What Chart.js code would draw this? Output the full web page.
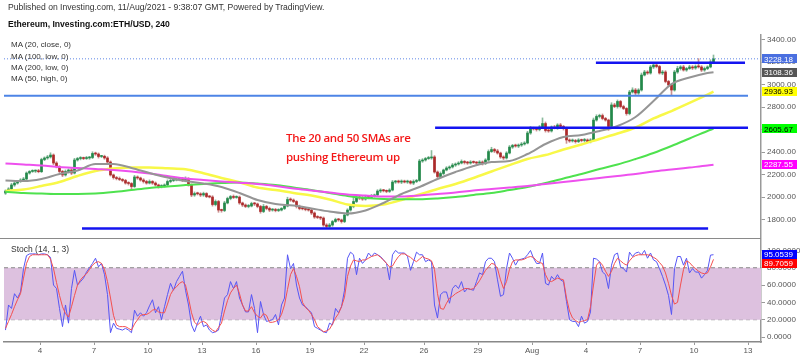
<!DOCTYPE html>
<html><head><meta charset="utf-8">
<script src="https://cdn.jsdelivr.net/npm/chart.js@4.4.1/dist/chart.umd.min.js"></script>
<style>
html,body{margin:0;padding:0;background:#fff;}
#wrap{position:relative;width:800px;height:357px;overflow:hidden;background:#fff;font-family:"Liberation Sans",Arial,sans-serif;}
.box{position:absolute;left:0;width:800px;}
.t{position:absolute;white-space:nowrap;color:#333;line-height:1;z-index:5;}
</style></head><body>
<div id="wrap">
 <div class="box" style="top:0;height:244px"><canvas id="c1"></canvas></div>
 <div class="box" style="top:239px;height:118px"><canvas id="c2"></canvas></div>
 <div style="position:absolute;left:0;top:237.5px;width:761px;height:1.5px;background:#8a8a8a;z-index:4"></div>
 <div class="t" style="left:8px;top:3px;font-size:8.6px;">Published on Investing.com, 11/Aug/2021 - 9:38:07 GMT, Powered by TradingView.</div>
 <div class="t" style="left:8px;top:20px;font-size:8.6px;font-weight:bold;color:#111;">Ethereum, Investing.com:ETH/USD, 240</div>
 <div class="t" style="left:11px;top:41px;font-size:8px;">MA (20, close, 0)</div>
 <div class="t" style="left:11px;top:52.5px;font-size:8px;">MA (100, low, 0)</div>
 <div class="t" style="left:11px;top:64px;font-size:8px;">MA (200, low, 0)</div>
 <div class="t" style="left:11px;top:75px;font-size:8px;">MA (50, high, 0)</div>
 <div class="t" style="left:11px;top:245px;font-size:8.5px;">Stoch (14, 1, 3)</div>
 <div class="t" style="left:286px;top:129px;font-size:11.5px;font-family:'Open Sans',sans-serif;font-weight:600;letter-spacing:-0.3px;color:#f41818;line-height:18.5px;">The 20 and 50 SMAs are<br>pushing Ethereum up</div>
</div>
<script>
// ---------------- DATA ----------------
const firstOpen = 2035;
const closes = [
2053,2071,2107,2124,2138,2151,2160,2213,2227,2230,
2231,2225,2333,2347,2356,2373,2302,2271,2227,2196,
2227,2240,2213,2329,2342,2347,2342,2347,2351,2387,
2382,2360,2362,2347,2311,2196,2173,2164,2156,2147,
2124,2120,2093,2178,2169,2151,2138,2124,2138,2124,
2107,2093,2098,2107,2138,2147,2151,2156,2160,2147,
2164,2107,2018,2031,2028,2018,2031,2004,2000,1933,
1960,1884,1880,1947,1987,2004,1996,1999,1947,1929,
1916,1920,1942,1938,1916,1871,1916,1898,1884,1889,
1880,1884,1898,1920,1978,1973,1960,1916,1898,1895,
1889,1884,1858,1822,1818,1813,1751,1738,1751,1782,
1800,1796,1782,1840,1884,1916,1960,2000,1991,1982,
2000,1996,2009,2018,2053,2058,2055,2050,2062,2133,
2138,2133,2142,2133,2138,2124,2138,2147,2320,2329,
2342,2347,2356,2222,2182,2209,2240,2258,2267,2284,
2293,2302,2316,2307,2302,2311,2307,2302,2311,2298,
2329,2404,2422,2409,2391,2356,2347,2391,2444,2458,
2453,2462,2471,2480,2569,2609,2605,2600,2622,2653,
2591,2587,2622,2613,2640,2627,2609,2507,2498,2502,
2493,2507,2502,2507,2493,2507,2684,2716,2724,2698,
2684,2627,2818,2804,2849,2804,2787,2742,2933,2951,
2924,2951,3084,3111,3102,3156,3173,3160,3102,3111,
3027,2996,2951,3111,3142,3156,3129,3142,3156,3147,
3160,3156,3129,3142,3156,3200,3228.18];
const wickUp = [
10,12,15,8,10,12,14,10,8,12, 10,15,12,10,14,20,10,12,8,10,
14,10,12,15,10,12,8,14,10,15, 12,10,8,10,12,10,8,10,14,8,
10,12,8,14,10,8,12,10,14,8, 10,8,12,10,14,10,12,8,10,14,
15,8,10,14,12,10,12,8,10,12, 14,10,8,15,12,10,14,12,10,8,
10,14,12,10,8,10,18,10,12,8, 10,12,8,10,20,14,10,8,12,10,
8,10,8,10,12,8,10,12,14,10, 12,10,8,14,12,15,40,12,10,14,
12,10,14,8,12,15,10,8,12,14, 10,12,10,8,12,10,14,10,15,12,
10,14,57,12,10,14,8,12,10,14, 10,12,14,8,10,12,10,8,12,10,
12,15,20,10,14,8,10,12,14,10, 12,10,14,12,15,18,12,10,14,50,
14,12,10,15,12,14,10,12,10,14, 10,12,8,14,10,12,18,15,12,14,
10,8,20,15,14,10,12,8,15,20, 14,12,18,15,12,14,16,12,10,14,
12,10,8,15,20,12,14,10,15,12, 14,70,12,14,10,20,34];
const wickDown = [
12,10,8,12,10,8,12,14,10,8, 12,10,8,10,12,10,14,12,10,15,
10,12,14,8,10,12,10,8,12,10, 12,14,10,12,8,10,14,12,10,12,
10,14,25,8,12,10,14,10,8,12, 10,14,12,10,8,12,10,8,12,10,
12,10,15,12,10,14,12,10,8,14, 12,20,15,10,8,12,10,8,12,14,
10,12,8,14,12,15,10,12,14,10, 12,10,8,10,8,12,10,14,12,10,
12,10,14,12,10,14,12,16,10,12, 8,12,14,10,8,10,12,10,14,12,
10,12,8,10,12,14,10,12,10,8, 12,10,14,8,12,10,14,10,8,12,
10,8,12,10,15,12,10,8,12,10, 12,10,8,14,12,10,8,12,10,14,
10,12,8,14,10,12,14,10,8,12, 10,14,12,10,8,12,10,14,12,10,
14,12,10,8,12,10,14,30,12,10, 14,10,12,14,10,12,8,10,14,12,
10,35,12,10,14,12,10,15,12,10, 14,12,10,8,12,10,14,12,10,15,
12,14,44,10,12,14,10,12,8,14, 12,10,14,12,10,8,10];

// moving averages, sampled at these candle indices
const maIdx = [0,6,12,18,24,30,36,42,48,54,60,66,72,78,84,90,96,102,108,114,120,126,132,138,144,150,156,162,168,174,180,186,192,198,204,210,216,222,228,234,236];
const ma20 = [2147,2142,2160,2204,2236,2293,2293,2258,2213,2173,2142,2120,2089,2036,1973,1938,1924,1898,1871,1853,1880,1947,2027,2089,2160,2222,2276,2311,2320,2382,2471,2533,2551,2587,2631,2711,2853,3004,3062,3102,3108.36];
const ma50 = [2053,2067,2098,2133,2187,2231,2253,2262,2262,2255,2246,2211,2169,2131,2084,2062,2036,2013,1978,1933,1920,1933,1973,2022,2071,2116,2169,2227,2284,2338,2373,2422,2467,2516,2564,2618,2698,2764,2836,2911,2936.93];
const ma100 = [2047,2036,2031,2027,2027,2031,2044,2062,2080,2093,2107,2116,2124,2129,2120,2107,2084,2062,2036,2009,1991,1982,1980,1980,1987,2000,2018,2036,2062,2089,2124,2164,2204,2249,2289,2338,2391,2453,2520,2587,2605.67];
const ma200 = [2298,2289,2280,2267,2258,2249,2240,2227,2209,2187,2164,2151,2138,2127,2116,2098,2076,2058,2040,2022,2013,2004,2004,2013,2027,2040,2058,2071,2084,2098,2116,2133,2151,2169,2187,2204,2227,2244,2262,2280,2287.55];

const stochK = [
8,37,33,50,45,52,79,94,96,96, 96,95,96,96,95,92,60,56,33,12,
37,16,56,77,60,64,68,75,80,85, 91,81,85,72,49,5,16,10,9,8,
10,8,5,31,24,28,24,28,36,43, 28,35,20,35,49,62,54,64,70,76,
54,37,14,6,16,24,12,14,8,5, 6,8,26,45,49,64,56,64,45,37,
29,29,49,33,5,41,26,18,19,20, 26,14,37,45,95,79,85,60,45,37,
35,31,28,12,10,8,6,5,16,14, 33,28,35,54,91,98,95,72,91,85,
89,97,93,97,95,93,89,85,66,95, 100,97,97,97,93,77,87,98,95,95,
87,89,87,37,22,49,52,52,39,56, 60,56,64,52,56,55,54,64,74,72,
87,91,91,87,66,47,49,79,97,91, 83,89,90,91,95,100,91,85,85,97,
62,60,70,66,72,66,64,41,20,18, 18,12,24,16,18,29,91,90,87,75,
72,56,83,95,97,81,79,75,98,93, 97,98,95,100,91,97,89,87,79,70,
60,48,26,79,93,93,83,91,74,79, 75,75,68,72,77,94.6,95.0539];
const stochD = [
10,18,26,35,43,50,68,85,93,95, 95,95,95,95,95,90,79,63,48,35,
27,23,35,48,60,66,70,73,78,83, 86,87,85,78,64,45,25,14,12,12,
12,10,8,15,20,25,26,26,28,31, 32,29,28,28,38,49,55,58,62,64,
60,45,28,17,14,17,18,16,11,8, 6,11,16,30,42,51,56,60,50,37,
30,30,35,28,24,22,27,25,17,17, 18,20,26,37,55,72,79,70,58,40,
34,31,26,20,12,9,6,7,9,15, 22,27,35,46,70,82,89,88,87,89,
89,91,93,94,95,92,89,85,81,82, 88,93,96,96,94,92,89,87,90,93,
91,90,88,78,50,33,32,39,45,47, 50,52,54,56,56,55,56,60,65,71,
77,81,85,84,79,66,56,64,78,87, 89,89,89,90,92,93,92,88,86,85,
72,65,64,66,68,67,66,45,30,22, 19,17,18,19,20,35,60,83,87,83,
76,70,76,85,91,88,85,83,88,92, 94,95,95,95,95,94,92,90,86,82,
74,62,48,38,40,60,78,88,86,82, 79,76,74,73,74,81,89.7059];
const stochBand = [20, 80];

// hand-drawn horizontal levels (price, start/end in candle index units)
const levelPrice = [3194, 2900, 2616, 1720];
const levelFrom  = [197.3, 0, 143.7, 26];
const levelTo    = [247, 248, 248, 234.7];

const priceTicks = [1800,2000,2200,2400,2600,2800,3000,3200,3400];
const stochTicks = [0,20,40,60,80,100];
const xTickIdx = [12,30,48,66,84,102,120,140,158,176,194,212,230,248];
const xTickLabels = ['4','7','10','13','16','19','22','26','29','Aug','4','7','10','13'];

// ---------------- STYLE ----------------
const X_MIN = 0, X_MAX = 252.33;
const UPC = '#23894a', DNC = '#ac2a2a';
const UPW = 'rgba(60,140,90,0.6)', DNW = 'rgba(170,70,70,0.6)';
const FONT = '"Liberation Sans", Arial, sans-serif';
Chart.defaults.font.family = FONT;
Chart.defaults.font.size = 8;
Chart.defaults.color = '#555';

const N = closes.length;
const opens = closes.map((c, i) => i === 0 ? firstOpen : closes[i - 1]);
const isUp = closes.map((c, i) => c >= opens[i]);
const bodyData = closes.map((c, i) => ({x: i + 0.5, y: [opens[i], c]}));
const wickData = closes.map((c, i) => ({x: i + 0.5, y: [Math.min(opens[i], c) - wickDown[i], Math.max(opens[i], c) + wickUp[i]]}));
const maLine = arr => arr.map((v, k) => ({x: maIdx[k] + 0.5, y: v}));
const last = a => a[a.length - 1];

function tagPlugin(id, scaleId, tags, w, h) {
  return {id, afterDraw(chart) {
    const sc = chart.scales[scaleId], ctx = chart.ctx;
    const items = tags.map(t => Object.assign({}, t, {py: sc.getPixelForValue(t.v)})).sort((a, b) => a.py - b.py);
    let prev = -1e9;
    ctx.save();
    ctx.font = '8px ' + FONT; ctx.textBaseline = 'middle'; ctx.textAlign = 'left';
    const x = chart.chartArea.right + 1;
    for (const it of items) {
      const y = Math.max(it.py, prev + h); prev = y;
      ctx.fillStyle = it.bg; ctx.fillRect(x, Math.round(y - h / 2), w, h);
      ctx.fillStyle = it.fg; ctx.fillText(it.v.toFixed(it.d), x + 2, y + 0.5);
    }
    ctx.restore();
  }};
}

const lineBase = {type: 'line', pointRadius: 0, pointHoverRadius: 0, fill: false};

const levelSets = levelPrice.map((p, k) => Object.assign({}, lineBase, {
  data: [{x: levelFrom[k], y: p}, {x: levelTo[k], y: p}],
  borderColor: k === 1 ? '#4d84e6' : '#1414f0', borderWidth: k === 1 ? 2 : 2.5, order: 1
}));

new Chart(document.getElementById('c1'), {
  type: 'bar',
  data: {datasets: [
    {type: 'bar', data: wickData, backgroundColor: isUp.map(u => u ? UPW : DNW), barThickness: 1, grouped: false, borderWidth: 0, order: 5},
    {type: 'bar', data: bodyData, backgroundColor: isUp.map(u => u ? UPC : DNC), barThickness: 2, grouped: false, borderWidth: 0, minBarLength: 1, order: 4},
    Object.assign({}, lineBase, {data: maLine(ma200), borderColor: '#ee50ee', borderWidth: 2, cubicInterpolationMode: 'monotone', order: 3}),
    Object.assign({}, lineBase, {data: maLine(ma100), borderColor: '#4ee24e', borderWidth: 2, cubicInterpolationMode: 'monotone', order: 3}),
    Object.assign({}, lineBase, {data: maLine(ma50), borderColor: '#f8f848', borderWidth: 2.5, cubicInterpolationMode: 'monotone', order: 3}),
    Object.assign({}, lineBase, {data: maLine(ma20), borderColor: '#959595', borderWidth: 2, cubicInterpolationMode: 'monotone', order: 2}),
    ...levelSets,
    Object.assign({}, lineBase, {data: [{x: X_MIN, y: last(closes)}, {x: X_MAX, y: last(closes)}], borderColor: '#5f86e6', borderWidth: 1, borderDash: [1, 2], order: 0})
  ]},
  options: {
    responsive: true, maintainAspectRatio: false, animation: false, devicePixelRatio: 1, events: [],
    layout: {padding: {left: 4, top: 35, right: 0, bottom: 6}},
    plugins: {legend: {display: false}, tooltip: {enabled: false}},
    scales: {
      x: {type: 'linear', min: X_MIN, max: X_MAX, display: false, offset: false},
      y: {type: 'linear', position: 'right', min: 1635.6, max: 3440,
        afterBuildTicks: s => { s.ticks = priceTicks.map(v => ({value: v})); },
        afterFit: s => { s.width = 39; s.paddingTop = 0; s.paddingBottom = 0; },
        ticks: {callback: v => Number(v).toFixed(2), padding: 2, color: '#555', font: {size: 8}},
        grid: {drawOnChartArea: false, tickLength: 4, color: '#999', tickColor: '#999'},
        border: {color: '#999', width: 1.5}}
    }
  },
  plugins: [tagPlugin('tagsA', 'y', [
    {v: last(closes), bg: '#4a6fe0', fg: '#fff', d: 2},
    {v: last(ma20), bg: '#555555', fg: '#fff', d: 2},
    {v: last(ma50), bg: '#ffff00', fg: '#000', d: 2},
    {v: last(ma100), bg: '#00ff00', fg: '#000', d: 2},
    {v: last(ma200), bg: '#ff00ff', fg: '#fff', d: 2}
  ], 35, 9)]
});

new Chart(document.getElementById('c2'), {
  type: 'line',
  data: {datasets: [
    Object.assign({}, lineBase, {data: [{x: X_MIN, y: stochBand[0]}, {x: X_MAX, y: stochBand[0]}], borderColor: '#8a8a8a', borderWidth: 1, borderDash: [4, 3], order: 3}),
    Object.assign({}, lineBase, {data: [{x: X_MIN, y: stochBand[1]}, {x: X_MAX, y: stochBand[1]}], borderColor: '#8a8a8a', borderWidth: 1, borderDash: [4, 3], fill: '-1', backgroundColor: '#ddc1df', order: 2}),
    Object.assign({}, lineBase, {data: stochK.map((v, i) => ({x: i + 0.5, y: v})), borderColor: '#5656f5', borderWidth: 1, order: 1}),
    Object.assign({}, lineBase, {data: stochD.map((v, i) => ({x: i + 0.5, y: v})), borderColor: '#f45050', borderWidth: 1, order: 0})
  ]},
  options: {
    responsive: true, maintainAspectRatio: false, animation: false, devicePixelRatio: 1, events: [],
    layout: {padding: {left: 4, top: 0, right: 0, bottom: 0}},
    plugins: {legend: {display: false}, tooltip: {enabled: false}},
    scales: {
      x: {type: 'linear', min: X_MIN, max: X_MAX, offset: false,
        afterBuildTicks: s => { s.ticks = xTickIdx.map(v => ({value: v})); },
        afterFit: s => { s.height = 15; s.paddingLeft = 0; s.paddingRight = 0; },
        ticks: {callback: (v, i) => xTickLabels[i], autoSkip: false, maxRotation: 0, padding: 1, color: '#555', font: {size: 8}},
        grid: {drawOnChartArea: false, tickLength: 3, color: '#999', tickColor: '#999'},
        border: {color: '#888', width: 1.5}},
      y: {type: 'linear', position: 'right', min: -5.77, max: 113.2,
        afterBuildTicks: s => { s.ticks = stochTicks.map(v => ({value: v})); },
        afterFit: s => { s.width = 39; s.paddingTop = 0; s.paddingBottom = 0; },
        ticks: {callback: v => Number(v).toFixed(4), padding: 2, color: '#555', font: {size: 8}},
        grid: {drawOnChartArea: false, tickLength: 4, color: '#999', tickColor: '#999'},
        border: {color: '#999', width: 1.5}}
    }
  },
  plugins: [tagPlugin('tagsB', 'y', [
    {v: last(stochK), bg: '#0000ff', fg: '#fff', d: 4},
    {v: last(stochD), bg: '#ff0000', fg: '#fff', d: 4}
  ], 35, 9)]
});
</script>
</body></html>
